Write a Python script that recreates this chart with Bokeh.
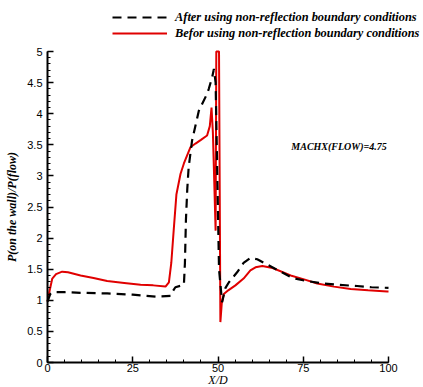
from bokeh.plotting import figure
from bokeh.models import Range1d, SingleIntervalTicker, Legend, LegendItem, Label, LinearAxis
from bokeh.embed import file_html
from bokeh.resources import INLINE

# ---- data ----
x_after = [0, 0.8, 1.5, 5, 10, 17.5, 25, 31.7, 36.1, 36.8, 37.5, 40.0, 40.3, 40.6, 41.0,
           41.4, 42.4, 43.4, 44.4, 46.8, 47.3, 48.3, 48.8, 49.3, 49.8, 50.3, 51.2, 52.2,
           53.2, 55.6, 57.5, 59.5, 61.5, 63.9, 67, 71.8, 76, 81, 85, 90.8, 95, 100]
y_after = [0.98, 1.10, 1.13, 1.13, 1.12, 1.11, 1.09, 1.06, 1.07, 1.15, 1.21, 1.25, 1.6, 2.3, 2.8,
           3.14, 3.57, 3.81, 4.05, 4.32, 4.40, 4.59, 4.72, 4.5, 3.0, 1.5, 0.97, 1.2,
           1.29, 1.45, 1.6, 1.68, 1.66, 1.59, 1.5, 1.36, 1.31, 1.27, 1.25, 1.23, 1.21, 1.2]

x_before = [0, 0.6, 1.4, 2.5, 4.3, 6, 9.7, 13.5, 17.5, 22.5, 27.3, 31, 34.6, 35.6, 36.3, 37,
            37.8, 39, 40, 41.9, 43.4, 45, 46.8, 47.6, 48.1, 48.5, 49.3, 49.5, 50.3, 50.7,
            51.1, 51.7, 53, 55.1, 57.5, 59.5, 61, 63, 66, 71.3, 75, 79.1, 84, 88.9, 94, 99.6, 100]
y_before = [0.98, 1.15, 1.35, 1.42, 1.46, 1.45, 1.40, 1.36, 1.31, 1.28, 1.25, 1.24, 1.22, 1.29, 1.6, 2.12,
            2.7, 3.03, 3.2, 3.46, 3.52, 3.58, 3.65, 3.8, 4.1, 3.7, 2.12, 5.0, 5.0, 0.65,
            0.95, 1.1, 1.16, 1.24, 1.35, 1.48, 1.53, 1.55, 1.52, 1.40, 1.34, 1.27, 1.22, 1.18, 1.16, 1.14, 1.14]

series_names = ["After using non-reflection boundary conditions",
                "Befor using non-reflection boundary conditions"]
y_ticks = [0, 0.5, 1, 1.5, 2, 2.5, 3, 3.5, 4, 4.5, 5]
y_tick_labels = ["0", "0.5", "1", "1.5", "2", "2.5", "3", "3.5", "4", "4.5", "5"]
x_ticks = [0, 25, 50, 75, 100]
x_tick_labels = ["0", "25", "50", "75", "100"]
x_title = "X/D"
y_title = "P(on the wall)/P(flow)"
note_text = "MACHX(FLOW)=4.75"
note_x, note_y = 71.5, 3.47
x_min, x_max = 0, 100
y_min, y_max = 0, 5

SERIF = "Liberation Serif"
SANS = "Liberation Sans"
RED = "#e00000"

# ---- layout (pixels) ----
W, H = 423, 387
FL, FR, FT, FB = 47, 388, 51, 362          # axes box inside the canvas
sx = (FR - FL) / (x_max - x_min)
sy = (FB - FT) / (y_max - y_min)
xr = Range1d(x_min - FL / sx, x_max + (W - FR) / sx)
yr = Range1d(y_min - (H - FB) / sy, y_max + FT / sy)

p = figure(width=W, height=H, output_backend="svg", toolbar_location=None,
           x_range=xr, y_range=yr, x_axis_location=None, y_axis_location=None,
           min_border_left=0, min_border_right=0, min_border_top=0, min_border_bottom=0)
p.outline_line_color = None
p.grid.visible = False

xaxis = LinearAxis(fixed_location=y_min, bounds=(x_min, x_max),
                   ticker=SingleIntervalTicker(interval=25, num_minor_ticks=5))
yaxis = LinearAxis(fixed_location=x_min, bounds=(y_min, y_max),
                   ticker=SingleIntervalTicker(interval=0.5, num_minor_ticks=5))
xaxis.major_label_overrides = {float(t): s for t, s in zip(x_ticks, x_tick_labels)}
yaxis.major_label_overrides = {float(t): s for t, s in zip(y_ticks, y_tick_labels)}

for ax in (xaxis, yaxis):
    ax.axis_line_color = "black"
    ax.axis_line_width = 2
    ax.major_tick_in = 6
    ax.major_tick_out = 0
    ax.minor_tick_in = 3
    ax.minor_tick_out = 0
    ax.major_tick_line_color = "black"
    ax.minor_tick_line_color = "black"
    ax.major_tick_line_width = 1.5
    ax.minor_tick_line_width = 1
    ax.major_label_text_font = SANS
    ax.major_label_text_font_size = "11px"
    ax.major_label_text_color = "black"

xaxis.major_label_standoff = 1
xaxis.axis_label = x_title
xaxis.axis_label_text_font = SERIF
xaxis.axis_label_text_font_style = "italic"
xaxis.axis_label_text_font_size = "12px"
xaxis.axis_label_text_color = "black"
xaxis.axis_label_standoff = -2

yaxis.major_label_standoff = 5
yaxis.axis_label = y_title
yaxis.axis_label_text_font = SERIF
yaxis.axis_label_text_font_style = "bold italic"
yaxis.axis_label_text_font_size = "12px"
yaxis.axis_label_text_color = "black"
yaxis.axis_label_standoff = 5

p.add_layout(xaxis, "below")
p.add_layout(yaxis, "left")

r_before = p.line(x_before, y_before, line_color=RED, line_width=2)
r_after = p.line(x_after, y_after, line_color="black", line_width=2.2, line_dash="9 6")

legend = Legend(items=[LegendItem(label=series_names[0], renderers=[r_after]),
                       LegendItem(label=series_names[1], renderers=[r_before])],
                location=(112, H - 41), orientation="vertical",
                glyph_width=55, glyph_height=16, label_height=16, label_standoff=8,
                spacing=0, padding=0, margin=0,
                border_line_color=None, background_fill_alpha=0,
                label_text_font=SERIF, label_text_font_style="bold italic",
                label_text_font_size="12.4px", label_text_color="black")
p.add_layout(legend)

p.add_layout(Label(x=note_x, y=note_y, text=note_text, text_font=SERIF,
                   text_font_style="bold italic", text_font_size="10px",
                   text_align="left", text_baseline="alphabetic", text_color="black"))

open("out.html", "w").write(file_html(p, INLINE))
